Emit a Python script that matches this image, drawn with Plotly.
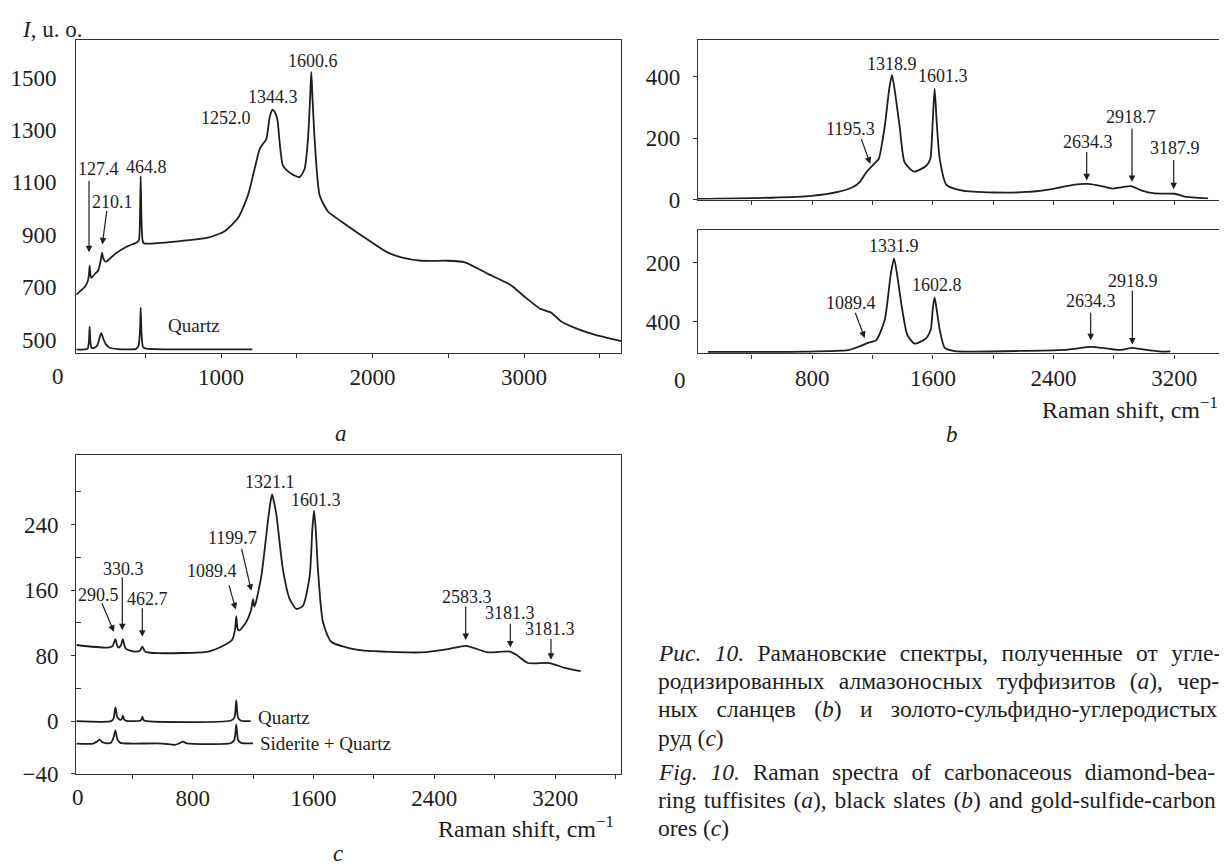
import plotly.graph_objects as go

# ---------------- data ----------------
# Panel a: carbonaceous diamond-bearing tuffisites
a_shift = [45, 100, 120, 128, 133, 138, 144, 170, 188, 200, 210, 215, 222, 236, 250, 298, 386, 441, 458,
           465, 470, 475, 482, 490, 518, 694, 914, 1024, 1112, 1178, 1222, 1255, 1275, 1299, 1322, 1339,
           1355, 1372, 1409, 1464, 1519, 1552, 1574, 1588, 1596, 1604, 1618, 1651, 1706, 1794, 2014, 2102,
           2190, 2322, 2498, 2609, 2762, 2916, 3005, 3104, 3180, 3246, 3356, 3466, 3642]
a_int = [672, 701, 722, 745, 782, 748, 736, 752, 763, 785, 815, 832, 812, 798, 800, 826, 857, 870, 880,
         960, 1124, 960, 880, 868, 866, 874, 889, 914, 964, 1051, 1152, 1227, 1245, 1265, 1350, 1377,
         1368, 1340, 1164, 1133, 1120, 1152, 1265, 1420, 1521, 1420, 1265, 1051, 989, 951, 864, 832,
         814, 801, 801, 795, 751, 707, 663, 619, 603, 569, 540, 519, 494]
a_quartz_shift = [45, 100, 120, 128, 133, 138, 145, 160, 185, 200, 210, 222, 240, 270, 320, 400, 440, 455,
                  465, 470, 475, 485, 500, 560, 800, 1207]
a_quartz_int = [462, 463, 466, 490, 550, 490, 470, 468, 480, 510, 525, 505, 482, 468, 464, 463, 465, 475,
                530, 622, 530, 472, 467, 464, 463, 463]

# Panel b (top): black slates
bt_shift = [42, 528, 793, 970, 1070, 1114, 1158, 1214, 1240, 1280, 1310, 1328, 1345, 1379, 1412, 1474,
            1556, 1582, 1598, 1611, 1625, 1645, 1688, 1788, 2009, 2230, 2407, 2540, 2628, 2716, 2787,
            2849, 2915, 2981, 3070, 3203, 3269, 3424]
bt_int = [2, 6, 12, 25, 41, 57, 89, 119, 132, 238, 360, 406, 360, 238, 121, 91,
          110, 132, 250, 361, 250, 132, 49, 30, 23, 25, 36, 49, 51, 44, 36,
          40, 44, 30, 20, 19, 10, 4]
# Panel b (bottom)
bb_shift = [108, 749, 1036, 1103, 1169, 1224, 1280, 1320, 1342, 1362, 1390, 1430, 1479, 1556, 1585,
            1600, 1611, 1622, 1645, 1678, 1744, 2230, 2495, 2646, 2761, 2849, 2920, 3026, 3114, 3174]
bb_int = [97, 98, 103, 114, 128, 137, 205, 360, 414, 360, 261, 155, 125, 144, 172,
          250, 281, 250, 172, 111, 100, 101, 105, 114, 108, 104, 111, 103, 98, 99]
bb_ticks = [400, 200]
bb_ticktext = ["200", "400"]

# Panel c: gold-sulfide-carbon ores
c_shift = [29, 238, 270, 287, 300, 309, 325, 336, 348, 360, 415, 450, 466, 480, 492, 570, 901, 1011,
           1060, 1080, 1088, 1098, 1110, 1154, 1185, 1199, 1207, 1215, 1254, 1298, 1315, 1325, 1335,
           1353, 1397, 1442, 1486, 1530, 1574, 1592, 1603, 1614, 1629, 1662, 1717, 1894, 2225, 2313,
           2490, 2611, 2755, 2899, 2943, 3020, 3163, 3263, 3369]
c_int = [93, 89.8, 92, 100.2, 92, 89.8, 93, 100.2, 92, 88, 85, 86, 91, 86, 84.2, 83, 85, 93,
         99, 112, 128, 112, 111, 121, 135, 149, 140, 143, 177, 245, 268, 277, 270,
         253, 185, 149, 137, 141, 177, 235, 257, 235, 185, 121, 97, 87, 84, 84,
         88, 92, 84, 85, 81, 71, 71, 65, 61]
c_quartz_shift = [29, 260, 275, 287, 300, 320, 330, 337, 345, 360, 450, 460, 466, 472, 485, 1050, 1075,
                  1082, 1088, 1094, 1100, 1120, 1183]
c_quartz_int = [0, 0, 3, 16.8, 5, 1.5, 3, 6.8, 2, 0.5, 0.5, 2, 5.6, 2, 0.3, 0.5, 4,
                12, 25.7, 12, 4, 0.5, 0]
c_sq_shift = [29, 140, 165, 183, 200, 230, 260, 275, 287, 300, 320, 400, 600, 680, 705, 735, 760, 1050,
              1075, 1082, 1088, 1094, 1100, 1120, 1199]
c_sq_int = [-27.3, -27.3, -25, -22.5, -25.5, -27, -26, -20, -11.2, -22, -26.5, -27.3, -27.3, -28.9,
            -27.5, -25, -27, -27, -23, -15, -4, -15, -23, -26.5, -27]
c_yticks = [-64.1, 0, 80, 160, 240]
c_yticktext = ["\u221240", "0", "80", "160", "240"]

# ---------------- figure ----------------
W, H = 1227, 868
FONT = "Liberation Serif"
INK = "#1e1e1e"


def px(x):
    return x / W


def py(y):
    return 1 - y / H


def spectrum(x, y, xa, ya):
    return go.Scatter(x=x, y=y, mode="lines", xaxis=xa, yaxis=ya, hoverinfo="skip", showlegend=False,
                      line=dict(color=INK, width=1.8, shape="spline", smoothing=0.6))


fig = go.Figure()
fig.add_trace(spectrum(a_shift, a_int, "x", "y"))
fig.add_trace(spectrum(a_quartz_shift, a_quartz_int, "x", "y"))
fig.add_trace(spectrum(bt_shift, bt_int, "x2", "y2"))
fig.add_trace(spectrum(bb_shift, bb_int, "x3", "y3"))
fig.add_trace(spectrum(c_shift, c_int, "x4", "y4"))
fig.add_trace(spectrum(c_quartz_shift, c_quartz_int, "x4", "y4"))
fig.add_trace(spectrum(c_sq_shift, c_sq_int, "x4", "y4"))

base = dict(showline=True, mirror=True, linecolor="#333", linewidth=1.2, showgrid=False, zeroline=False,
            ticks="outside", ticklen=4, tickcolor="#333", tickwidth=1.1,
            tickfont=dict(family=FONT, size=23, color=INK), fixedrange=True)
ybase = dict(base, ticklabelstandoff=8)

xa_dom = [px(68.3), px(613.3)]
xb_dom = [px(690), px(1217.7)]

fig.update_layout(
    width=W, height=H, margin=dict(l=0, r=0, t=0, b=0),
    paper_bgcolor="white", plot_bgcolor="white",
    font=dict(family=FONT, color=INK),
    xaxis=dict(base, domain=xa_dom, range=[45, 3642], anchor="y",
               tickmode="array", tickvals=[500, 1000, 1500, 2000, 2500, 3000, 3500],
               ticktext=["", "1000", "", "2000", "", "3000", ""]),
    yaxis=dict(ybase, domain=[py(350), py(32)], range=[450, 1645], anchor="x",
               tickmode="array", tickvals=[500, 700, 900, 1100, 1300, 1500], ticks="",
               ticklabelstandoff=14),
    xaxis2=dict(base, domain=xb_dom, range=[42, 3541], anchor="y2",
                tickmode="array", tickvals=[400, 800, 1200, 1600, 2000, 2400, 2800, 3200],
                showticklabels=False),
    yaxis2=dict(ybase, domain=[py(194.5), py(32.3)], range=[0, 520], anchor="x2",
                tickmode="array", tickvals=[0, 200, 400]),
    xaxis3=dict(base, domain=xb_dom, range=[42, 3541], anchor="y3",
                tickmode="array", tickvals=[400, 800, 1200, 1600, 2000, 2400, 2800, 3200],
                ticktext=["", "800", "", "1600", "", "2400", "", "3200"]),
    yaxis3=dict(ybase, domain=[py(350.7), py(225.7)], range=[92, 509], anchor="x3",
                tickmode="array", tickvals=bb_ticks, ticktext=bb_ticktext),
    xaxis4=dict(base, domain=xa_dom, range=[28.5, 3638], anchor="y4",
                tickmode="array", tickvals=[400, 800, 1200, 1600, 2000, 2400, 2800, 3200, 3600],
                ticktext=["", "800", "", "1600", "", "2400", "", "3200", ""]),
    yaxis4=dict(ybase, domain=[py(777.3), py(454.3)], range=[-64.1, 324.4], anchor="x4",
                tickmode="array", tickvals=c_yticks, ticktext=c_yticktext,
                minor=dict(tickmode="array", tickvals=[40, 120, 200, 280], ticks="inside",
                           ticklen=5, tickcolor="#333")),
)

ann = []


def label(text, cx, cy, size=18, xanchor="center"):
    ann.append(dict(text=text, x=px(cx), y=py(cy), xref="paper", yref="paper", showarrow=False,
                    xanchor=xanchor, yanchor="middle", font=dict(family=FONT, size=size, color=INK)))


def arrow(tx, ty, hx, hy):
    ann.append(dict(text="", x=px(hx), y=py(hy), xref="paper", yref="paper", showarrow=True,
                    ax=tx - hx, ay=ty - hy, arrowhead=2, arrowsize=1.1, arrowwidth=1.2,
                    arrowcolor=INK, standoff=0, startstandoff=0))


# panel a
for t, cx, cy in [("127.4", 90, 163), ("210.1", 104, 197), ("464.8", 138, 161), ("1252.0", 218, 112),
                  ("1344.3", 265, 90), ("1600.6", 305, 54)]:
    label(t, cx, cy)
arrow(81, 175, 81, 248)
arrow(99, 205, 94.3, 240)
label("Quartz", 158, 322, size=19, xanchor="left")

# panel b top
for t, cx, cy in [("1318.9", 884.2, 56.7), ("1195.3", 842.7, 123.3), ("1601.3", 935, 69),
                  ("2634.3", 1079.5, 135.7), ("2918.7", 1123.3, 111), ("3187.9", 1166.7, 142.3)]:
    label(t, cx, cy)
arrow(852.7, 131.7, 862.3, 158.3)
arrow(1078.7, 145, 1078.7, 175)
arrow(1124, 121.7, 1124, 176.7)
arrow(1165.7, 153.3, 1165.7, 184)

# panel b bottom
for t, cx, cy in [("1331.9", 886.2, 241.7), ("1089.4", 842.7, 299), ("1602.8", 928.7, 281.7),
                  ("2634.3", 1083.3, 297.7), ("2918.9", 1125, 276.7)]:
    label(t, cx, cy)
arrow(846.7, 308.3, 856.7, 335)
arrow(1082.7, 308.3, 1082.7, 337.3)
arrow(1124.3, 286, 1124.3, 341.7)

# panel c
for t, cx, cy in [("290.5", 90.8, 596), ("330.3", 115.8, 569.3), ("462.7", 139, 600),
                  ("1089.4", 204, 571.7), ("1199.7", 224, 538.3), ("1321.1", 262, 481.7),
                  ("1601.3", 308, 499.3), ("2583.3", 459, 597.7), ("3181.3", 502.3, 614.3),
                  ("3181.3", 542, 630.7)]:
    label(t, cx, cy)
arrow(93.3, 603.3, 106, 633.3)
arrow(114.3, 577.3, 114.3, 631.7)
arrow(134.3, 608.3, 134.3, 638.3)
arrow(220.7, 585, 227.7, 610.7)
arrow(233.3, 548.3, 243.3, 591.7)
arrow(457.7, 606.7, 457.7, 641.7)
arrow(502.3, 624, 502.3, 649.3)
arrow(543, 639.3, 543, 661.7)
label("Quartz", 248, 720.7, size=19, xanchor="left")
label("Siderite + Quartz", 250, 746.7, size=19, xanchor="left")

# axis origin labels, axis titles, panel letters
label("0", 50, 374, size=23)
label("0", 671.7, 378, size=23)
label("0", 70, 801, size=23)
label("<i>I</i>, u. o.", 12, 22, size=23, xanchor="left")
ann.append(dict(text="Raman shift, cm<sup>\u22121</sup>", x=px(1212), y=py(406), xref="paper", yref="paper",
                showarrow=False, xanchor="right", yanchor="middle", font=dict(family=FONT, size=24, color=INK)))
ann.append(dict(text="Raman shift, cm<sup>\u22121</sup>", x=px(608), y=py(831), xref="paper", yref="paper",
                showarrow=False, xanchor="right", yanchor="middle", font=dict(family=FONT, size=24, color=INK)))
label("<i>a</i>", 333, 432, size=23)
label("<i>b</i>", 944, 433, size=23)
label("<i>c</i>", 330, 858, size=23)

# caption (justified lines get extra word spacing)
caption = [
    ("<i>Рис. 10.</i> Рамановские спектры, полученные от угле-", 655, 7.5),
    ("родизированных алмазоносных туффизитов (<i>a</i>), чер-", 683, 8.3),
    ("ных сланцев (<i>b</i>) и золото-сульфидно-углеродистых", 712, 12.5),
    ("руд (<i>c</i>)", 741, 0),
    ("<i>Fig. 10.</i> Raman spectra of carbonaceous diamond-bea-", 776, 7),
    ("ring tuffisites (<i>a</i>), black slates (<i>b</i>) and gold-sulfide-carbon", 804, 2),
    ("ores (<i>c</i>)", 832, 0),
]
for t, y, ws in caption:
    txt = t if ws == 0 else '<span style="word-spacing:%.1fpx">%s</span>' % (ws, t)
    label(txt, 648, y, size=23.5, xanchor="left")

fig.update_layout(annotations=ann)
fig.write_html("out.html")
